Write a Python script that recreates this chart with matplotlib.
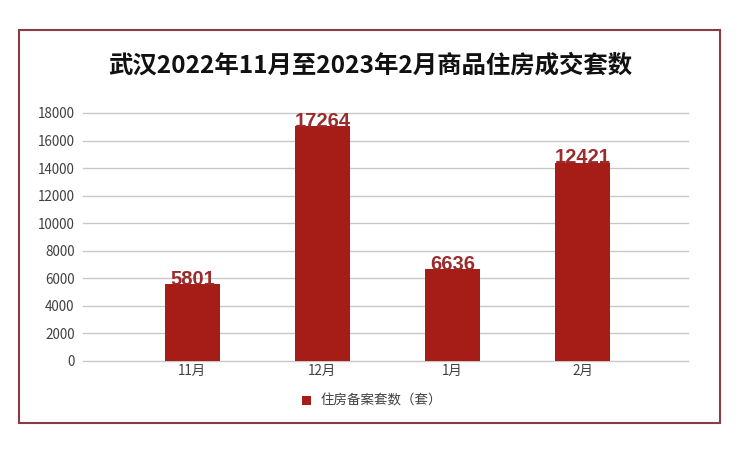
import matplotlib.pyplot as plt
from matplotlib.patches import Rectangle

plt.rcParams['font.family'] = ['Noto Sans CJK SC', 'DejaVu Sans']

months = ['11月', '12月', '1月', '2月']
bar_values = [5570, 17050, 6680, 14400]
value_labels = ['5801', '17264', '6636', '12421']
yticks = list(range(0, 18001, 2000))

title = '武汉2022年11月至2023年2月商品住房成交套数'
series_name = '住房备案套数（套）'

bar_color = '#a61c16'
label_color = '#9c2b2b'
text_color = '#404040'


def main():
    fig = plt.figure(figsize=(7.4, 4.59), dpi=100)
    fig.patches.append(Rectangle((19 / 740, 1 - 423 / 459), 701 / 740, 393 / 459,
                                 transform=fig.transFigure, fill=False,
                                 edgecolor='#8a3c42', linewidth=1.5))

    ax = fig.add_axes([83 / 740, 1 - 361 / 459, 605 / 740, 248 / 459])
    x = range(len(months))
    bars = ax.bar(x, bar_values, width=0.42, color=bar_color, zorder=3,
                  label=series_name)

    for xi, v, lab in zip(x, bar_values, value_labels):
        ax.text(xi, v - 60, lab, ha='center', va='baseline', color=label_color,
                fontsize=14.5, fontweight='bold', family='Liberation Sans',
                zorder=4)

    ax.set_xlim(-0.84, 3.81)
    ax.set_ylim(0, 18000)
    ax.set_yticks(yticks)
    ax.set_xticks(list(x))
    ax.set_xticklabels(months)
    ax.yaxis.grid(True, color='#c8c8c8', linewidth=1, zorder=0)
    for line in ax.get_ygridlines():
        line.set_clip_on(False)
    for s in ax.spines.values():
        s.set_visible(False)
    ax.tick_params(length=0, colors=text_color, labelsize=9.7)
    ax.tick_params(axis='y', pad=6)
    ax.tick_params(axis='x', pad=2)

    fig.text(0.5, 1 - 66 / 459, title, ha='center', va='center',
             fontsize=17.6, fontweight='bold', color='#111111')

    fig.legend(handles=[bars], labels=[series_name], loc='center',
               bbox_to_anchor=(372 / 740, 1 - 401 / 459), frameon=False,
               fontsize=9.7, handlelength=0.7, handleheight=0.7,
               handletextpad=0.7, labelcolor=text_color)

    fig.savefig('out.png', dpi=100, facecolor='white')


if __name__ == "__main__":
    main()
